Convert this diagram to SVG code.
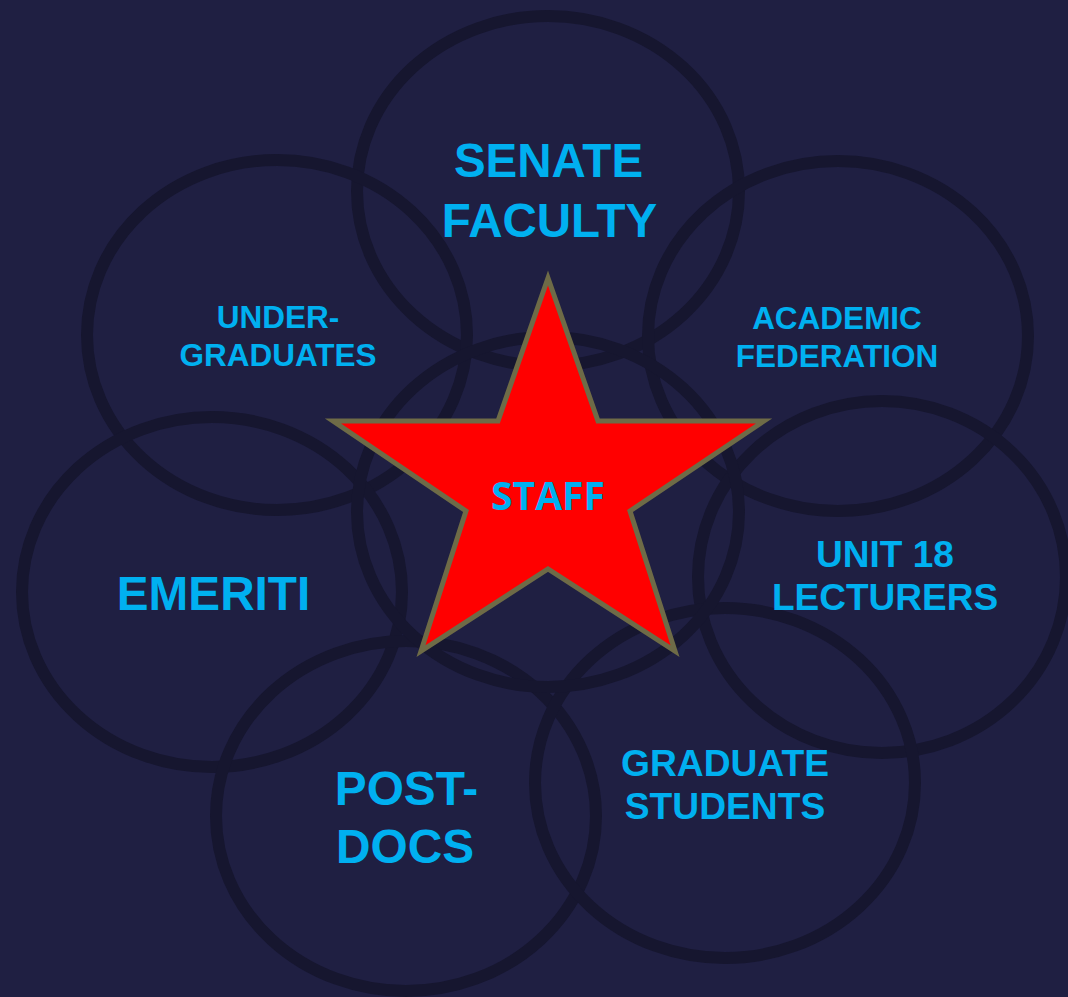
<svg xmlns="http://www.w3.org/2000/svg" width="1068" height="997" viewBox="0 0 1068 997">
  <style>
    .ring { fill: none; stroke: #16162f; stroke-width: 12; }
    .label { fill: #00b0f0; font-family: "Liberation Sans", Arial, sans-serif; font-weight: bold; text-anchor: middle; }
    .star { fill: #ff0000; stroke: #6e6b47; stroke-width: 5; stroke-linejoin: miter; stroke-miterlimit: 10; }
    .core { fill: #00b0f0; font-family: "Open Sans", "Noto Sans", sans-serif; font-weight: bold; text-anchor: middle; }
  </style>
  <rect width="1068" height="997" fill="#1f1f42"/>

  <!-- overlapping rings, one per group -->
  <g id="rings">
    <ellipse id="ring-senate" class="ring" cx="548" cy="191" rx="191" ry="175"/>
    <ellipse id="ring-undergrad" class="ring" cx="277" cy="335" rx="190" ry="175"/>
    <ellipse id="ring-academic" class="ring" cx="838" cy="336" rx="190" ry="175"/>
    <ellipse id="ring-emeriti" class="ring" cx="212" cy="592" rx="190" ry="175"/>
    <ellipse id="ring-unit18" class="ring" cx="882" cy="577" rx="184" ry="176"/>
    <ellipse id="ring-postdocs" class="ring" cx="406" cy="816" rx="190" ry="175"/>
    <ellipse id="ring-grad" class="ring" cx="725" cy="783" rx="190" ry="175"/>
    <ellipse id="ring-staff" class="ring" cx="548" cy="512" rx="191" ry="175"/>
  </g>

  <g id="node-senate">
    <text class="label" x="548.5" y="177" font-size="47.5">SENATE</text>
    <text class="label" x="549.5" y="237" font-size="47.5">FACULTY</text>
  </g>

  <g id="node-undergrad">
    <text class="label" x="278" y="328" font-size="31.5">UNDER-</text>
    <text class="label" x="278" y="366" font-size="31.5">GRADUATES</text>
  </g>

  <g id="node-academic">
    <text class="label" x="837" y="329" font-size="31.5">ACADEMIC</text>
    <text class="label" x="837" y="367" font-size="31.5">FEDERATION</text>
  </g>

  <g id="node-emeriti">
    <text class="label" x="213.5" y="610" font-size="47.7">EMERITI</text>
  </g>

  <g id="node-unit18">
    <text class="label" x="885" y="567" font-size="37">UNIT 18</text>
    <text class="label" x="885" y="610" font-size="37">LECTURERS</text>
  </g>

  <g id="node-postdocs">
    <text class="label" x="406.5" y="805" font-size="47.8">POST-</text>
    <text class="label" x="405" y="863" font-size="47.8">DOCS</text>
  </g>

  <g id="node-grad">
    <text class="label" x="725" y="776" font-size="37.2">GRADUATE</text>
    <text class="label" x="725" y="819" font-size="37.2">STUDENTS</text>
  </g>

  <g id="node-staff">
    <polygon class="star" points="548,278 598,421 764,421 630,511 675,651 548,569 421,651 466,511 333,421 498,421"/>
    <text class="core" x="548" y="510" font-size="39">STAFF</text>
  </g>
</svg>
